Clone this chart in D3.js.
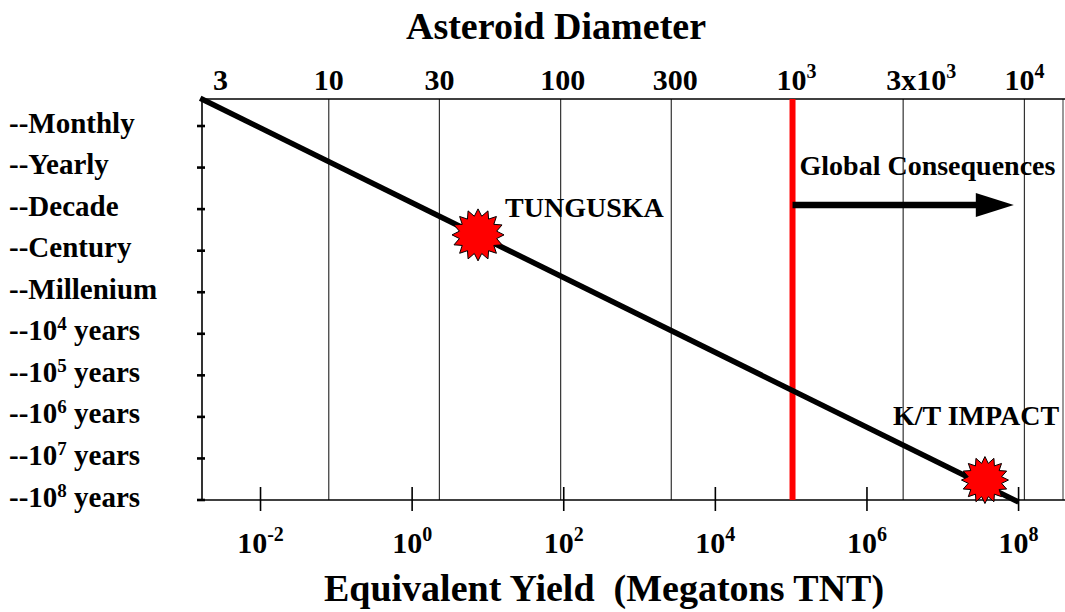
<!DOCTYPE html>
<html>
<head>
<meta charset="utf-8">
<script src="https://cdn.jsdelivr.net/npm/d3@7"></script>
<style>
  html, body { margin: 0; padding: 0; background: #ffffff; }
  svg { display: block; }
  text { font-family: "Liberation Serif", "Times New Roman", serif; font-weight: bold; fill: #000; }
</style>
</head>
<body>
<svg id="chart" width="1065" height="612"></svg>
<script>
// ---------------- DATA ----------------
// Top axis: asteroid diameter (m), log scale
const diameterTicks  = [3, 10, 30, 100, 300, 1000, 3000, 10000];
const diameterLabels = [["3", ""], ["10", ""], ["30", ""], ["100", ""], ["300", ""], ["10", "3"], ["3x10", "3"], ["10", "4"]];
const diameterGridlines = [10, 30, 100, 300, 3000, 10000];

// Bottom axis: equivalent yield (megatons TNT), log scale
const yieldTicks  = [1e-2, 1e0, 1e2, 1e4, 1e6, 1e8];
const yieldLabels = [["10", "-2"], ["10", "0"], ["10", "2"], ["10", "4"], ["10", "6"], ["10", "8"]];

// Left axis: recurrence interval, log10(years)
const frequencyValues = [-1, 0, 1, 2, 3, 4, 5, 6, 7, 8];
const frequencyLabels = [
  ["--Monthly", "", ""], ["--Yearly", "", ""], ["--Decade", "", ""], ["--Century", "", ""],
  ["--Millenium", "", ""], ["--10", "4", " years"], ["--10", "5", " years"], ["--10", "6", " years"],
  ["--10", "7", " years"], ["--10", "8", " years"]
];

// Impact frequency line (yield in Mt, log10 years)
const lineYields   = [1.6e-3, 1e8];
const lineLogYears = [-1.67, 8.05];

// Named events
const eventNames    = ["TUNGUSKA", "K/T IMPACT"];
const eventYields   = [7.4, 3.6e7];
const eventLogYears = [1.62, 7.52];

// Global consequences threshold (diameter, m) and arrow
const thresholdDiameter = 1000;
const arrowDiameters = [1000, 9000];
const arrowLogYears = 0.9;
const arrowLabel = "Global Consequences";

// ---------------- LAYOUT ----------------
(function () {
const svg = d3.select("#chart");
const pLeft = 202, pRight = 1063, pTop = 99, pBottom = 500;

const xTop = d3.scaleLog().domain([2.84, 14670]).range([pLeft, pRight]);
const xBot = d3.scaleLog().domain([Math.pow(10, -2.772), Math.pow(10, 8.586)]).range([pLeft, pRight]);
const y = d3.scaleLinear().domain([-1.65, 8]).range([pTop, pBottom]);

function supText(sel, parts, supSize, raise) {
  sel.append("tspan").text(parts[0]);
  if (parts[1]) {
    sel.append("tspan").attr("font-size", supSize).attr("dy", -raise).text(parts[1]);
    if (parts[2]) sel.append("tspan").attr("dy", raise).text(parts[2]);
  } else if (parts[2]) {
    sel.append("tspan").text(parts[2]);
  }
}

// Gridlines (diameter)
svg.append("g").selectAll("line").data(diameterGridlines).join("line")
  .attr("x1", d => xTop(d)).attr("x2", d => xTop(d))
  .attr("y1", pTop).attr("y2", pBottom)
  .attr("stroke", "#333").attr("stroke-width", 1.2);

// Right border line
svg.append("line").attr("x1", pRight).attr("x2", pRight).attr("y1", pTop).attr("y2", pBottom)
  .attr("stroke", "#555").attr("stroke-width", 1.2);

// Top line
svg.append("line").attr("x1", pLeft).attr("x2", 1065).attr("y1", pTop).attr("y2", pTop)
  .attr("stroke", "#000").attr("stroke-width", 1.4);

// Bottom axis line
svg.append("line").attr("x1", pLeft).attr("x2", 1065).attr("y1", pBottom).attr("y2", pBottom)
  .attr("stroke", "#000").attr("stroke-width", 1.4);

// Left axis line
svg.append("line").attr("x1", pLeft).attr("x2", pLeft).attr("y1", pTop).attr("y2", pBottom)
  .attr("stroke", "#000").attr("stroke-width", 1.6);

// Left ticks
svg.append("g").selectAll("line").data(frequencyValues).join("line")
  .attr("x1", pLeft - 5).attr("x2", pLeft + 3)
  .attr("y1", d => y(d)).attr("y2", d => y(d))
  .attr("stroke", "#000").attr("stroke-width", 2.6);

// Bottom ticks
svg.append("g").selectAll("line").data(yieldTicks).join("line")
  .attr("x1", d => xBot(d)).attr("x2", d => xBot(d))
  .attr("y1", pBottom - 13).attr("y2", pBottom + 11)
  .attr("stroke", "#000").attr("stroke-width", 1.6);

// Red threshold line
svg.append("line")
  .attr("x1", xTop(thresholdDiameter)).attr("x2", xTop(thresholdDiameter))
  .attr("y1", pTop).attr("y2", pBottom)
  .attr("stroke", "#ff0000").attr("stroke-width", 6);

// Impact frequency line
const lineData = lineYields.map((v, i) => ({ yield: v, logYears: lineLogYears[i] }));
svg.append("path").datum(lineData)
  .attr("d", d3.line().x(d => xBot(d.yield)).y(d => y(d.logYears)))
  .attr("stroke", "#000").attr("stroke-width", 5.5).attr("fill", "none");

// Arrow
const ax1 = xTop(arrowDiameters[0]), ax2 = xTop(arrowDiameters[1]), ay = y(arrowLogYears);
svg.append("line").attr("x1", ax1).attr("x2", ax2 - 36).attr("y1", ay).attr("y2", ay)
  .attr("stroke", "#000").attr("stroke-width", 6.5);
svg.append("path")
  .attr("d", `M${ax2 - 38},${ay - 12} L${ax2},${ay} L${ax2 - 38},${ay + 12} Z`)
  .attr("fill", "#000");
svg.append("text").attr("x", ax1 + 7).attr("y", ay - 30)
  .attr("font-size", 28).text(arrowLabel);

// Stars
function starPath(cx, cy, rOut, rIn, n) {
  const pts = [];
  for (let i = 0; i < 2 * n; i++) {
    const r = i % 2 === 0 ? rOut : rIn;
    const a = Math.PI * i / n - Math.PI / 2;
    pts.push([cx + r * Math.cos(a), cy + r * Math.sin(a)]);
  }
  return "M" + pts.map(p => p.join(",")).join("L") + "Z";
}
const events = eventNames.map((n, i) => ({ name: n, yield: eventYields[i], logYears: eventLogYears[i] }));
const starR = [[26, 19], [23.5, 17]];
const labelOff = [[27, -18], [-92, -55]];
events.forEach((e, i) => {
  const cx = xBot(e.yield), cy = y(e.logYears);
  svg.append("path").attr("d", starPath(cx, cy, starR[i][0], starR[i][1], 16))
    .attr("fill", "#ff0000").attr("stroke", "#000").attr("stroke-width", 1);
  svg.append("text").attr("x", cx + labelOff[i][0]).attr("y", cy + labelOff[i][1])
    .attr("font-size", 28).text(e.name);
});

// Top labels
const topLabelDx = [0, 0, 0, 2, 4, 4, 18, 0];
diameterTicks.forEach((d, i) => {
  const t = svg.append("text")
    .attr("x", i === 0 ? pLeft + 11 : xTop(d) + topLabelDx[i])
    .attr("y", 90)
    .attr("text-anchor", i === 0 ? "start" : "middle")
    .attr("font-size", 30);
  supText(t, diameterLabels[i], 20, 12);
});

// Bottom labels
yieldTicks.forEach((d, i) => {
  const t = svg.append("text")
    .attr("x", xBot(d)).attr("y", 553)
    .attr("text-anchor", "middle")
    .attr("font-size", 30);
  supText(t, yieldLabels[i], 20, 12);
});

// Left labels
frequencyValues.forEach((v, i) => {
  const t = svg.append("text")
    .attr("x", 9).attr("y", y(v) + 6.5)
    .attr("font-size", 29);
  supText(t, frequencyLabels[i], 19, 10);
});

// Titles
svg.append("text").attr("x", 556).attr("y", 39).attr("text-anchor", "middle")
  .attr("font-size", 38).text("Asteroid Diameter");
svg.append("text").attr("x", 604).attr("y", 601).attr("text-anchor", "middle")
  .attr("font-size", 38).style("white-space", "pre")
  .text("Equivalent Yield  (Megatons TNT)");
})();
</script>
</body>
</html>
